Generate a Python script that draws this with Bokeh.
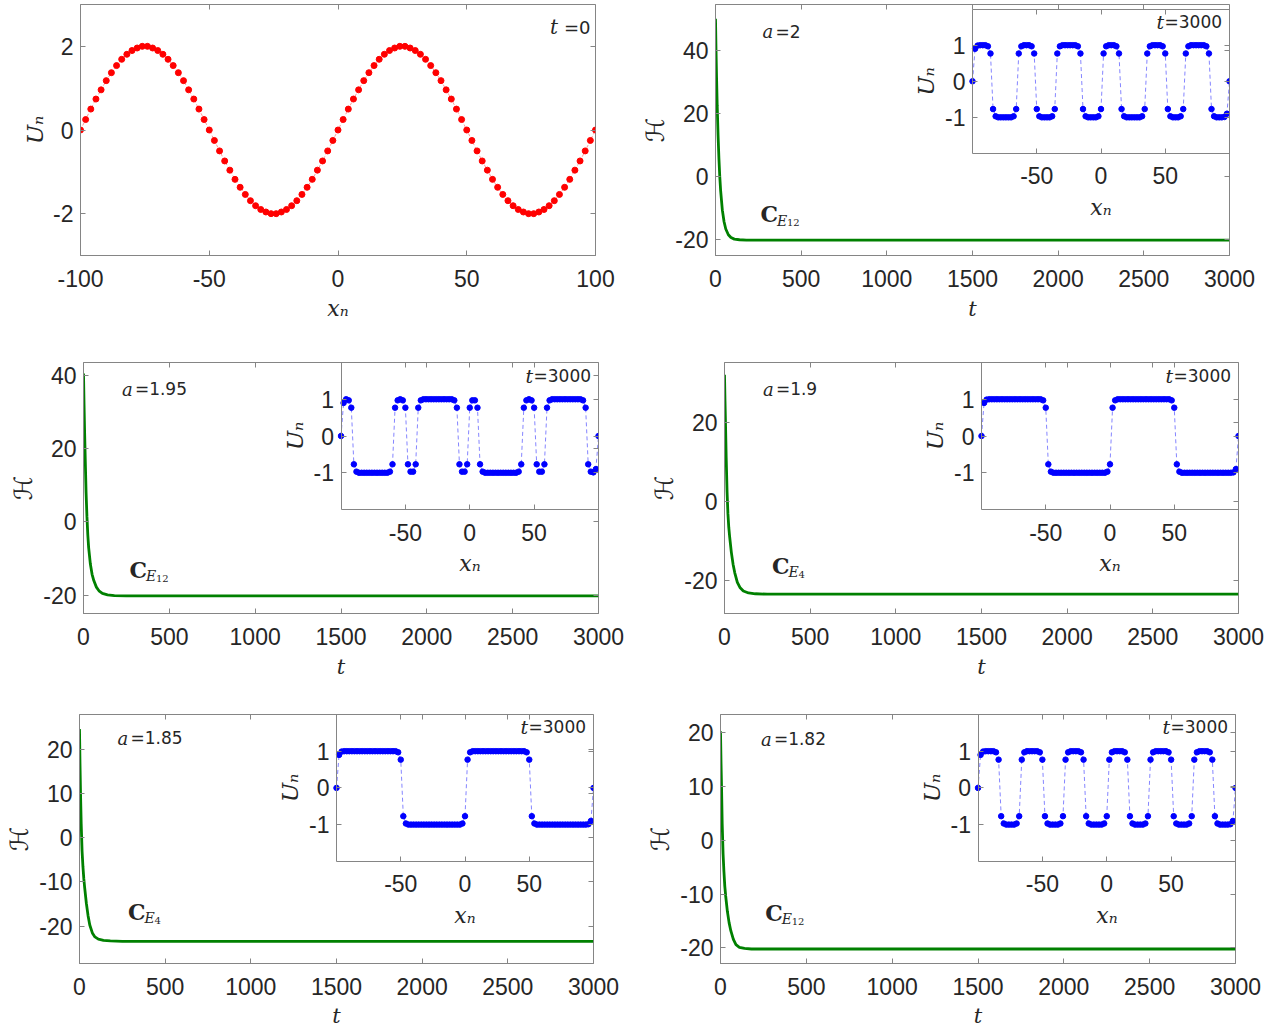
from bokeh.plotting import figure
from bokeh.layouts import row, column
from bokeh.models import Range1d, LinearAxis, FixedTicker, Label
from bokeh.embed import file_html
from bokeh.resources import INLINE

# ---------------- data ----------------
xn = [-100, -98, -96, -94, -92, -90, -88, -86, -84, -82,
      -80, -78, -76, -74, -72, -70, -68, -66, -64, -62,
      -60, -58, -56, -54, -52, -50, -48, -46, -44, -42,
      -40, -38, -36, -34, -32, -30, -28, -26, -24, -22,
      -20, -18, -16, -14, -12, -10, -8, -6, -4, -2,
      0,
      2, 4, 6, 8, 10, 12, 14, 16, 18, 20,
      22, 24, 26, 28, 30, 32, 34, 36, 38, 40,
      42, 44, 46, 48, 50, 52, 54, 56, 58, 60,
      62, 64, 66, 68, 70, 72, 74, 76, 78, 80,
      82, 84, 86, 88, 90, 92, 94, 96, 98, 100]

# initial profile, t = 0
U_t0 = [0, 0.25, 0.5, 0.74, 0.96, 1.18, 1.37, 1.54, 1.69, 1.81,
        1.9, 1.96, 2.0, 2.0, 1.96, 1.9, 1.81, 1.69, 1.54, 1.37,
        1.18, 0.96, 0.74, 0.5, 0.25,
        0, -0.25, -0.5, -0.74, -0.96, -1.18, -1.37, -1.54, -1.69, -1.81,
        -1.9, -1.96, -2.0, -2.0, -1.96, -1.9, -1.81, -1.69, -1.54, -1.37,
        -1.18, -0.96, -0.74, -0.5, -0.25,
        0, 0.25, 0.5, 0.74, 0.96, 1.18, 1.37, 1.54, 1.69, 1.81,
        1.9, 1.96, 2.0, 2.0, 1.96, 1.9, 1.81, 1.69, 1.54, 1.37,
        1.18, 0.96, 0.74, 0.5, 0.25,
        0, -0.25, -0.5, -0.74, -0.96, -1.18, -1.37, -1.54, -1.69, -1.81,
        -1.9, -1.96, -2.0, -2.0, -1.96, -1.9, -1.81, -1.69, -1.54, -1.37,
        -1.18, -0.96, -0.74, -0.5, -0.25,
        0]

# final profiles, t = 3000
U_a2 = [0,
        0.9, 0.99, 1, 1, 1, 0.97, 0.77,
        -0.77, -0.97, -1, -1, -1, -1, -1, -1, -0.97, -0.77,
        0.77, 0.97, 1, 1, 1, 0.97, 0.77,
        -0.77, -0.97, -1, -1, -1, -1, -0.97, -0.77,
        0.77, 0.97, 1, 1, 1, 1, 1, 1, 0.97, 0.77,
        -0.77, -0.97, -1, -1, -1, -1, -0.97, -0.77,
        0.77, 0.97, 1, 1, 1, 0.97, 0.77,
        -0.77, -0.97, -1, -1, -1, -1, -1, -1, -0.97, -0.77,
        0.77, 0.97, 1, 1, 1, 1, 0.97, 0.77,
        -0.77, -0.97, -1, -1, -1, -0.97, -0.77,
        0.77, 0.97, 1, 1, 1, 1, 1, 1, 0.97, 0.77,
        -0.77, -0.97, -1, -1, -1, -0.99, -0.9,
        0]

U_a195 = [0,
          0.9, 1, 0.97, 0.77,
          -0.77, -0.97,
          -1, -1, -1, -1, -1,
          -1, -1, -1, -1, -1,
          -1, -1,
          -0.97, -0.77,
          0.77, 0.97, 1, 0.97, 0.77,
          -0.77, -0.97, -0.97, -0.77,
          0.77, 0.97,
          1, 1, 1, 1, 1,
          1, 1, 1, 1, 1,
          1, 1,
          0.97, 0.77,
          -0.77, -0.97, -0.97, -0.77,
          0.77, 0.97, 0.97, 0.77,
          -0.77, -0.97,
          -1, -1, -1, -1, -1,
          -1, -1, -1, -1, -1,
          -1, -1, -1,
          -0.97, -0.77,
          0.77, 0.97, 1, 0.97, 0.77,
          -0.77, -0.97, -0.97, -0.77,
          0.77, 0.97,
          1, 1, 1, 1, 1,
          1, 1, 1, 1, 1,
          1, 1,
          0.97, 0.77,
          -0.77, -0.97, -0.99, -0.9,
          0]

U_a19 = [0,
         0.9, 0.99,
         1, 1, 1, 1, 1,
         1, 1, 1, 1, 1,
         1, 1, 1, 1, 1,
         1, 1, 1, 1, 1,
         1,
         0.97, 0.77,
         -0.77, -0.97,
         -1, -1, -1, -1, -1,
         -1, -1, -1, -1, -1,
         -1, -1, -1, -1, -1,
         -1, -1, -1, -1, -1,
         -1,
         -0.97, -0.77,
         0.77, 0.97,
         1, 1, 1, 1, 1,
         1, 1, 1, 1, 1,
         1, 1, 1, 1, 1,
         1, 1, 1, 1, 1,
         1,
         0.97, 0.77,
         -0.77, -0.97,
         -1, -1, -1, -1, -1,
         -1, -1, -1, -1, -1,
         -1, -1, -1, -1, -1,
         -1, -1, -1, -1, -1,
         -0.99, -0.9,
         0]

U_a185 = [0,
          0.9, 0.99,
          1, 1, 1, 1, 1,
          1, 1, 1, 1, 1,
          1, 1, 1, 1, 1,
          1, 1, 1, 1, 1,
          1,
          0.97, 0.77,
          -0.77, -0.97,
          -1, -1, -1, -1, -1,
          -1, -1, -1, -1, -1,
          -1, -1, -1, -1, -1,
          -1, -1, -1, -1, -1,
          -1,
          -0.97, -0.77,
          0.77, 0.97,
          1, 1, 1, 1, 1,
          1, 1, 1, 1, 1,
          1, 1, 1, 1, 1,
          1, 1, 1, 1, 1,
          1,
          0.97, 0.77,
          -0.77, -0.97,
          -1, -1, -1, -1, -1,
          -1, -1, -1, -1, -1,
          -1, -1, -1, -1, -1,
          -1, -1, -1, -1, -1,
          -0.99, -0.9,
          0]

U_a182 = [0,
          0.9, 0.99, 1, 1, 1, 1, 0.97, 0.77,
          -0.77, -0.97, -1, -1, -1, -1, -0.97, -0.77,
          0.77, 0.97, 1, 1, 1, 1, 1, 0.97, 0.77,
          -0.77, -0.97, -1, -1, -1, -1, -0.97, -0.77,
          0.77, 0.97, 1, 1, 1, 1, 0.97, 0.77,
          -0.77, -0.97, -1, -1, -1, -1, -1, -0.97, -0.77,
          0.77, 0.97, 1, 1, 1, 1, 0.97, 0.77,
          -0.77, -0.97, -1, -1, -1, -1, -0.97, -0.77,
          0.77, 0.97, 1, 1, 1, 1, 1, 0.97, 0.77,
          -0.77, -0.97, -1, -1, -1, -1, -0.97, -0.77,
          0.77, 0.97, 1, 1, 1, 1, 0.97, 0.77,
          -0.77, -0.97, -1, -1, -1, -1, -0.99, -0.9,
          0]

# energy H(t)
t_H = [0, 3, 6, 10, 15, 20, 25, 30, 40, 50, 60, 75, 90, 110, 140, 180, 250, 3000]
H_a2 = [50.2, 40.4, 32, 22.5, 13.1, 5.8, 0, -4.4, -10.6, -14.3, -16.6, -18.4, -19.3, -19.8, -20, -20.1, -20.1, -20.1]
H_a195 = [40.5, 32.5, 25.5, 17.5, 8, 1.5, -3.5, -7, -11.5, -14.3, -16, -17.8, -18.8, -19.5, -19.9, -20.1, -20.2, -20.2]
H_a19 = [32.2, 25.5, 19.5, 11, 2.5, -3, -6.5, -8.8, -12.8, -15.8, -18, -20.4, -21.7, -22.6, -23.1, -23.3, -23.4, -23.4]
H_a185 = [24.5, 16.5, 10, 3, -3, -6.5, -9.2, -11.2, -14.8, -17.6, -19.7, -21.5, -22.4, -22.9, -23.2, -23.3, -23.4, -23.4]
H_a182 = [20.3, 14.5, 10, 3, -2.5, -5.8, -8.5, -10.3, -13.2, -15.3, -16.8, -18.4, -19.4, -19.9, -20.1, -20.2, -20.2, -20.2]

a_labels = ["2", "1.95", "1.9", "1.85", "1.82"]
E_labels = ["12", "12", "4", "4", "12"]

t_ticks = [0, 500, 1000, 1500, 2000, 2500, 3000]
xn_ticks = [-100, -50, 0, 50, 100]
U_ticks = [-2, 0, 2]
xn_ticks_inset = [-50, 0, 50]
U_ticks_inset = [-1, 0, 1]
H_ticks = {"2": [-20, 0, 20, 40], "1.95": [-20, 0, 20, 40], "1.9": [-20, 0, 20],
           "1.85": [-20, -10, 0, 10, 20], "1.82": [-20, -10, 0, 10, 20]}

_bad = [(n, len(a)) for n, a in (("U_t0", U_t0), ("U_a2", U_a2), ("U_a195", U_a195),
                                  ("U_a19", U_a19), ("U_a185", U_a185), ("U_a182", U_a182))
        if len(a) != len(xn)]
if _bad:
    raise ValueError("length mismatch %r" % _bad)

# ---------------- styling ----------------
GRAY = "#858585"
INK = "#262626"
TICKF = "Liberation Sans"
SANS = "DejaVu Sans"
SERIF = "DejaVu Serif"
COLS = [632, 648]
TOP = 4


def style_axis(ax, ticks, labels=True, tick_standoff=14, label_standoff=7):
    ax.ticker = FixedTicker(ticks=ticks)
    ax.major_label_overrides = {tk: str(tk) for tk in ticks}
    ax.axis_line_color = GRAY
    ax.axis_line_width = 1
    ax.major_tick_line_color = GRAY
    ax.major_tick_in = 5
    ax.major_tick_out = 0
    ax.minor_tick_line_color = None
    ax.major_label_text_font = TICKF
    ax.major_label_text_font_size = "23px"
    ax.major_label_text_color = INK if labels else None
    ax.major_label_standoff = tick_standoff
    ax.axis_label_text_font = SERIF
    ax.axis_label_text_font_style = "italic"
    ax.axis_label_text_font_size = "21px"
    ax.axis_label_text_color = INK
    ax.axis_label_standoff = label_standoff


def px_to_data(cfg, dx, dy):
    (x0, x1), (y0, y1) = cfg["xr"], cfg["yr"]
    return x0 + dx * (x1 - x0) / cfg["fw"], y1 - dy * (y1 - y0) / cfg["fh"]


def add_text(p, cfg, dx, dy, text, font, size, style="normal"):
    x, y = px_to_data(cfg, dx, dy)
    p.add_layout(Label(x=x, y=y, text=text, text_font=font, text_font_size=size,
                       text_font_style=style, text_color=INK, text_align="left",
                       text_baseline="middle"))


def make_panel(cfg):
    (x0, x1), (y0, y1) = cfg["xr"], cfg["yr"]
    W = COLS[cfg["col"]]
    p = figure(width=W, height=cfg["h"], x_range=Range1d(x0, x1), y_range=Range1d(y0, y1),
               output_backend="svg", toolbar_location=None,
               min_border_left=cfg["mbl"], min_border_right=W - cfg["mbl"] - cfg["fw"],
               min_border_top=TOP, min_border_bottom=cfg["h"] - TOP - cfg["fh"])
    p.grid.visible = False
    p.outline_line_color = GRAY
    p.background_fill_color = "white"
    p.border_fill_color = "white"
    xa = p.xaxis[0]
    style_axis(xa, cfg["xticks"], tick_standoff=14, label_standoff=cfg["xls"])
    xa.axis_label = cfg["xlabel"]
    if cfg["xlabel"] == "xₙ":
        xa.axis_label_text_font_size = "22px"
    ya = p.yaxis[0]
    style_axis(ya, cfg["yticks"], tick_standoff=7, label_standoff=cfg["yls"])
    ya.axis_label = cfg["ylabel"]
    if cfg["ylabel"] == "ℋ":
        ya.axis_label_text_font = SANS
        ya.axis_label_text_font_style = "normal"
        ya.axis_label_text_font_size = "25px"
    else:
        ya.axis_label_text_font_size = "23px"
    top = LinearAxis(fixed_location=y1)
    style_axis(top, cfg["xticks"], labels=False)
    p.add_layout(top, "above")
    right = LinearAxis(fixed_location=x1)
    style_axis(right, cfg["yticks"], labels=False)
    p.add_layout(right, "right")
    return p


def add_inset(p, cfg, U):
    fh = cfg["fh"]
    top_px, h_px = cfg["itop"], cfg["ih"]
    span_x = 200 / 0.5
    p.extra_x_ranges = {"ix": Range1d(100 - span_x, 100)}
    fb = (fh - top_px - h_px) / fh
    ft = (fh - top_px) / fh
    span_y = 4 / (ft - fb)
    iy0 = -2 - fb * span_y
    p.extra_y_ranges = {"iy": Range1d(iy0, iy0 + span_y)}
    p.line(xn, U, x_range_name="ix", y_range_name="iy", line_color="#3333ff",
           line_alpha=0.6, line_width=1, line_dash="4 3")
    p.scatter(xn, U, x_range_name="ix", y_range_name="iy", size=5.5,
              fill_color="#0000ff", line_color="#0000ff")
    kw = dict(x_range_name="ix", y_range_name="iy")
    ib = LinearAxis(fixed_location=-2, bounds=(-100, 100), axis_label="xₙ", **kw)
    style_axis(ib, xn_ticks_inset, tick_standoff=14, label_standoff=7)
    ib.axis_label_text_font_size = "22px"
    p.add_layout(ib, "below")
    il = LinearAxis(fixed_location=-100, bounds=(-2, 2), axis_label="Uₙ", **kw)
    style_axis(il, U_ticks_inset, tick_standoff=7, label_standoff=3)
    il.axis_label_text_font_size = "23px"
    p.add_layout(il, "left")
    it = LinearAxis(fixed_location=2, bounds=(-100, 100), **kw)
    style_axis(it, xn_ticks_inset, labels=False)
    p.add_layout(it, "above")
    ir = LinearAxis(fixed_location=100, bounds=(-2, 2), **kw)
    style_axis(ir, U_ticks_inset, labels=False)
    p.add_layout(ir, "right")
    fw = cfg["fw"]
    add_text(p, cfg, fw - 73, top_px + 13, "t", SERIF, "19px", "italic")
    add_text(p, cfg, fw - 65, top_px + 13, "=3000", SANS, "17px")


# ---------------- panel 1: t = 0 ----------------
cfg1 = dict(col=0, h=358, mbl=80, fw=515, fh=251, xr=(-100, 100), yr=(-3, 3),
            xticks=xn_ticks, yticks=U_ticks, xlabel="xₙ", ylabel="Uₙ",
            xls=6, yls=2)
p1 = make_panel(cfg1)
p1.line(xn, U_t0, line_color="#ff0000", line_alpha=0.5, line_width=0.8, line_dash="3 2")
p1.scatter(xn, U_t0, size=6, fill_color="#ff0000", line_color="#ff0000")
add_text(p1, cfg1, 515 - 45.4, 22.7, "t", SERIF, "20px", "italic")
add_text(p1, cfg1, 515 - 31.5, 22.7, "=0", SANS, "18px")

# ---------------- energy panels ----------------
H_series = [H_a2, H_a195, H_a19, H_a185, H_a182]
U_final = [U_a2, U_a195, U_a19, U_a185, U_a182]
ylims = [(-25, 54.7), (-25, 43.5), (-28.3, 35.3), (-28.4, 27.8), (-22.9, 23.4)]
geo = [
    dict(col=1, h=358, mbl=83, fw=514, fh=254, itop=4.7, ih=146, a=(47, 27.4), c=(45, 212.4), xls=7),
    dict(col=0, h=352, mbl=83, fw=515, fh=251, itop=0, ih=147, a=(38.4, 26.6), c=(46, 207.3), xls=7),
    dict(col=1, h=352, mbl=92, fw=514, fh=251, itop=0, ih=147, a=(38.4, 26.6), c=(47.4, 203.3), xls=7),
    dict(col=0, h=320, mbl=79, fw=514, fh=251, itop=0, ih=148, a=(38, 24), c=(48.4, 199), xls=6),
    dict(col=1, h=320, mbl=88, fw=515, fh=251, itop=0, ih=148, a=(40.4, 25), c=(44.7, 199.7), xls=6),
]

panels = []
for i in range(5):
    g = geo[i]
    cfg = dict(g, xr=(0, 3000), yr=ylims[i], xticks=t_ticks, yticks=H_ticks[a_labels[i]],
               xlabel="t", ylabel="ℋ", yls=2)
    p = make_panel(cfg)
    p.line(t_H, H_series[i], line_color="#008000", line_width=2.8)
    add_inset(p, cfg, U_final[i])
    adx, ady = g["a"]
    add_text(p, cfg, adx, ady, "a", SERIF, "18px", "italic")
    add_text(p, cfg, adx + 13, ady, "=" + a_labels[i], SANS, "17px")
    cdx, cdy = g["c"]
    add_text(p, cfg, cdx, cdy, "C", SERIF, "22px", "bold")
    add_text(p, cfg, cdx + 16.5, cdy + 6.5, "E", SERIF, "14px", "italic")
    add_text(p, cfg, cdx + 26.5, cdy + 8.5, E_labels[i], SERIF, "10px")
    panels.append(p)

layout = column(row(p1, panels[0]), row(panels[1], panels[2]), row(panels[3], panels[4]))

open("out.html", "w").write(file_html(layout, INLINE))
